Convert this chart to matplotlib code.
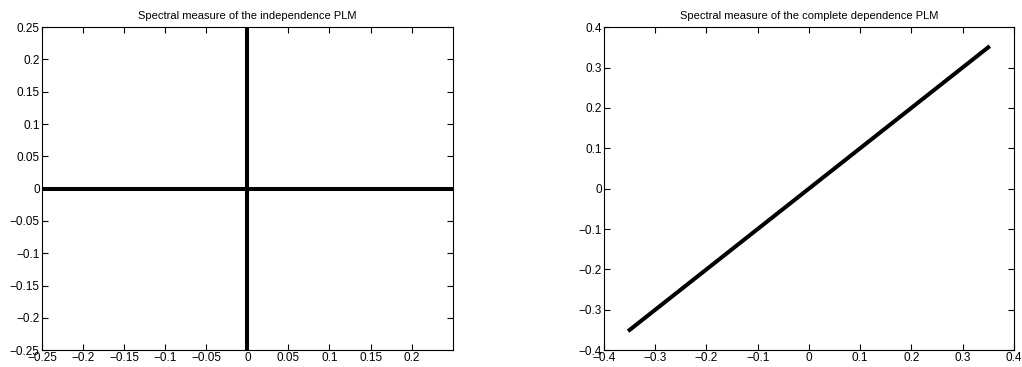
import numpy as np
from matplotlib import pyplot as plt

plt.rcParams['font.family'] = ['Liberation Sans', 'DejaVu Sans']
plt.rcParams['font.size'] = 8.5

# left panel: independence PLM (two axes segments)
indep_x = [[-0.25, 0.25], [0, 0]]
indep_y = [[0, 0], [-0.25, 0.25]]
indep_ticks = [-0.25, -0.2, -0.15, -0.1, -0.05, 0, 0.05, 0.1, 0.15, 0.2]
indep_yticks = [-0.25, -0.2, -0.15, -0.1, -0.05, 0, 0.05, 0.1, 0.15, 0.2, 0.25]

# right panel: complete dependence PLM (diagonal)
dep_x = [-0.35, 0.35]
dep_y = [-0.35, 0.35]
dep_ticks = [-0.4, -0.3, -0.2, -0.1, 0, 0.1, 0.2, 0.3, 0.4]

fig = plt.figure(figsize=(10.22, 3.67), dpi=100)
ax1 = fig.add_axes([0.041, 0.046, 0.402, 0.880])
ax2 = fig.add_axes([0.591, 0.046, 0.401, 0.880])

def fmt(v):
    s = ('%g' % v)
    return s.replace('-', '\u2212')

for xs, ys in zip(indep_x, indep_y):
    ax1.plot(xs, ys, color='k', linewidth=2.9)
ax1.set_xlim(-0.25, 0.25)
ax1.set_ylim(-0.25, 0.25)
ax1.set_xticks(indep_ticks)
ax1.set_xticklabels([fmt(v) for v in indep_ticks])
ax1.set_yticks(indep_yticks)
ax1.set_yticklabels([fmt(v) for v in indep_yticks])
ax1.set_title('Spectral measure of the independence PLM', fontsize=8, pad=6)

ax2.plot(dep_x, dep_y, color='k', linewidth=2.9)
ax2.set_xlim(-0.4, 0.4)
ax2.set_ylim(-0.4, 0.4)
ax2.set_xticks(dep_ticks)
ax2.set_xticklabels([fmt(v) for v in dep_ticks])
ax2.set_yticks(dep_ticks)
ax2.set_yticklabels([fmt(v) for v in dep_ticks])
ax2.set_title('Spectral measure of the complete dependence PLM', fontsize=8, pad=6)

for ax in (ax1, ax2):
    ax.tick_params(direction='in', top=True, right=True, length=4, width=0.8, pad=1.5)
    for sp in ax.spines.values():
        sp.set_linewidth(0.8)

plt.savefig('out.png', dpi=100)
